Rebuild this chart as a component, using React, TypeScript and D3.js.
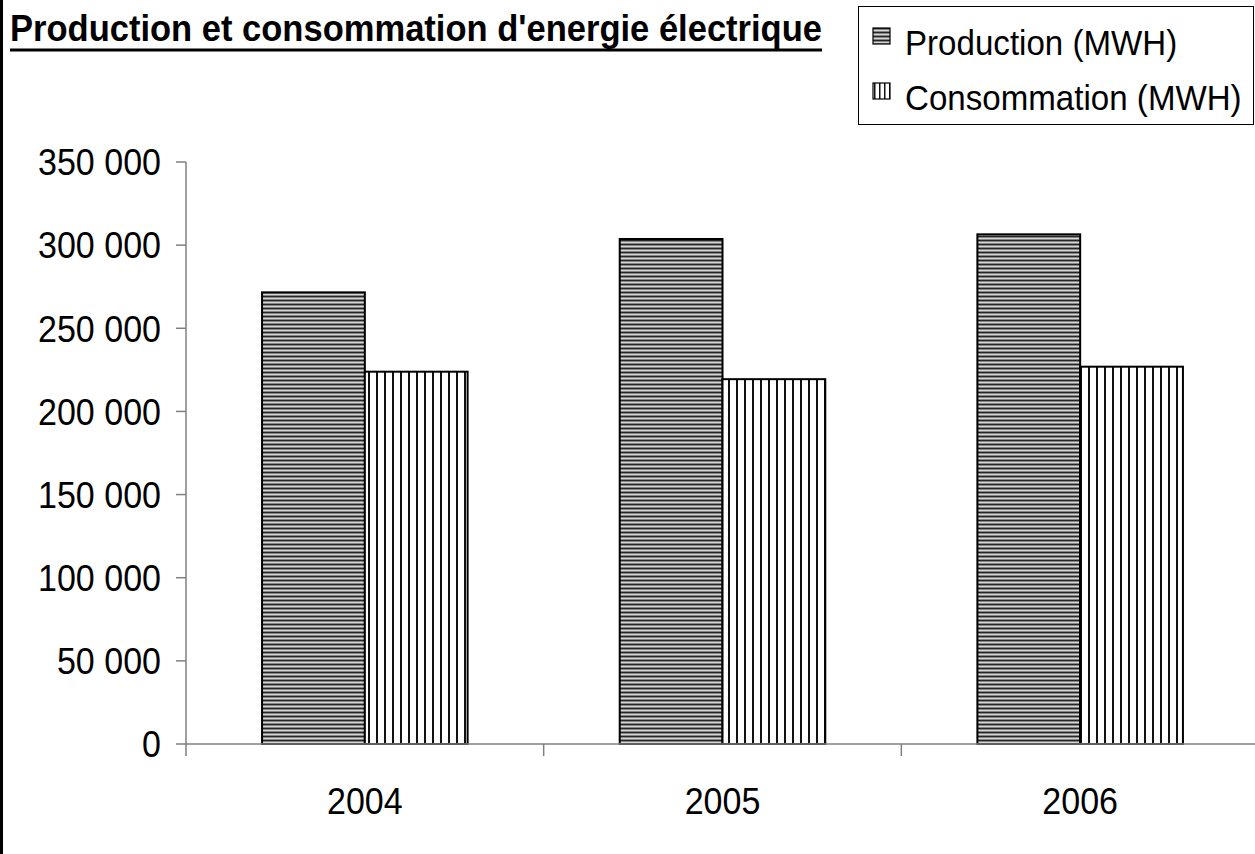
import React from "react";
import * as d3 from "d3";

const years = ["2004", "2005", "2006"];
const seriesNames = ["Production (MWH)", "Consommation (MWH)"];
const production = [271600, 303700, 306500];
const consumption = [223900, 219400, 226900];
const yTicks = [0, 50000, 100000, 150000, 200000, 250000, 300000, 350000];
const titleText = "Production et consommation d'energie électrique";

const W = 1255;
const H = 854;
const FONT = "'Liberation Sans', Arial, Helvetica, sans-serif";
const SX = 0.92; // horizontal compression to mimic the taller glyphs of the reference

function SText(props: {
  x: number;
  y: number;
  size: number;
  anchor?: "start" | "middle" | "end";
  bold?: boolean;
  dy?: string;
  children: React.ReactNode;
}) {
  const { x, y, size, anchor = "start", bold = false, dy, children } = props;
  return (
    <text
      transform={`translate(${x},${y}) scale(${SX},1)`}
      fontSize={size}
      fontWeight={bold ? "bold" : "normal"}
      textAnchor={anchor}
      dy={dy}
      fill="#000"
    >
      {children}
    </text>
  );
}

export default function App() {
  const x0 = d3.scaleBand<string>().domain(years).range([186, 1259]).paddingInner(0).paddingOuter(0);
  const x1 = d3
    .scaleBand<string>()
    .domain(seriesNames)
    .range([0, x0.bandwidth()])
    .paddingInner(0)
    .paddingOuter(0.74);
  const y = d3.scaleLinear().domain([0, 350000]).range([744, 162]);
  const fmt = (v: number) => d3.format(",")(v).replace(/,/g, " ");
  const values = [production, consumption];
  const fills = ["url(#hstripes)", "url(#vstripes)"];
  const axisColor = "#808080";

  const boundaries = [...years.map((yr) => x0(yr) as number), (x0(years[years.length - 1]) as number) + x0.bandwidth()];

  return (
    <svg
      width={W}
      height={H}
      style={{ position: "absolute", left: 0, top: 0, background: "#fff" }}
      fontFamily={FONT}
    >
      <defs>
        <pattern id="hstripes" patternUnits="userSpaceOnUse" width={8} height={4}>
          <rect x={0} y={0} width={8} height={1} fill="#262626" />
          <rect x={0} y={1} width={8} height={1} fill="#858585" />
          <rect x={0} y={2} width={8} height={1} fill="#d6d6d6" />
          <rect x={0} y={3} width={8} height={1} fill="#858585" />
        </pattern>
        <pattern id="vstripes" patternUnits="userSpaceOnUse" width={8} height={8}>
          <rect x={0} y={0} width={8} height={8} fill="#fff" />
          <rect x={0} y={0} width={2} height={8} fill="#111" />
        </pattern>
        <pattern id="vstripesLeg" patternUnits="userSpaceOnUse" width={5} height={8} x={874}>
          <rect x={0} y={0} width={5} height={8} fill="#fff" />
          <rect x={0} y={0} width={1.5} height={8} fill="#111" />
        </pattern>
      </defs>
      <rect x={0} y={0} width={W} height={H} fill="#fff" />

      {/* left border */}
      <line x1={1.5} y1={0} x2={1.5} y2={H} stroke="#000" strokeWidth={3} />

      {/* title */}
      <text
        x={10}
        y={41}
        fontSize={36}
        fontWeight="bold"
        fill="#000"
        textLength={812}
        lengthAdjust="spacingAndGlyphs"
      >
        {titleText}
      </text>
      <line x1={10} y1={50} x2={822} y2={50} stroke="#000" strokeWidth={3} />

      {/* legend */}
      <rect x={858.5} y={6.5} width={395} height={118} fill="#fff" stroke="#000" strokeWidth={1} />
      <rect x={873} y={28} width={17} height={16} fill="url(#hstripes)" stroke="#000" strokeWidth={1.2} />
      <SText x={905} y={55} size={36}>
        {seriesNames[0]}
      </SText>
      <rect x={873} y={83} width={17} height={16} fill="url(#vstripesLeg)" stroke="#000" strokeWidth={1.2} />
      <SText x={905} y={110} size={36}>
        {seriesNames[1]}
      </SText>

      {/* y axis */}
      <line x1={186} y1={y(350000)} x2={186} y2={y(0)} stroke={axisColor} strokeWidth={1.5} />
      {yTicks.map((t) => (
        <g key={t}>
          <line x1={176} y1={y(t)} x2={186} y2={y(t)} stroke={axisColor} strokeWidth={1.5} />
          <SText x={161} y={y(t)} dy="0.36em" anchor="end" size={37}>
            {fmt(t)}
          </SText>
        </g>
      ))}

      {/* bars */}
      {years.map((yr, i) => (
        <g key={yr}>
          {seriesNames.map((s, j) => {
            const bx = (x0(yr) as number) + (x1(s) as number);
            const v = values[j][i];
            return (
              <rect
                key={s}
                x={bx}
                y={y(v)}
                width={x1.bandwidth()}
                height={y(0) - y(v)}
                fill={fills[j]}
                stroke="#000"
                strokeWidth={2}
              />
            );
          })}
        </g>
      ))}

      {/* x axis */}
      <line x1={186} y1={y(0)} x2={W} y2={y(0)} stroke={axisColor} strokeWidth={1.5} />
      {boundaries.map((bx, k) => (
        <line key={k} x1={bx} y1={y(0)} x2={bx} y2={y(0) + 12} stroke={axisColor} strokeWidth={1.5} />
      ))}
      {years.map((yr) => (
        <SText key={yr} x={(x0(yr) as number) + x0.bandwidth() / 2} y={814} anchor="middle" size={37}>
          {yr}
        </SText>
      ))}
    </svg>
  );
}
